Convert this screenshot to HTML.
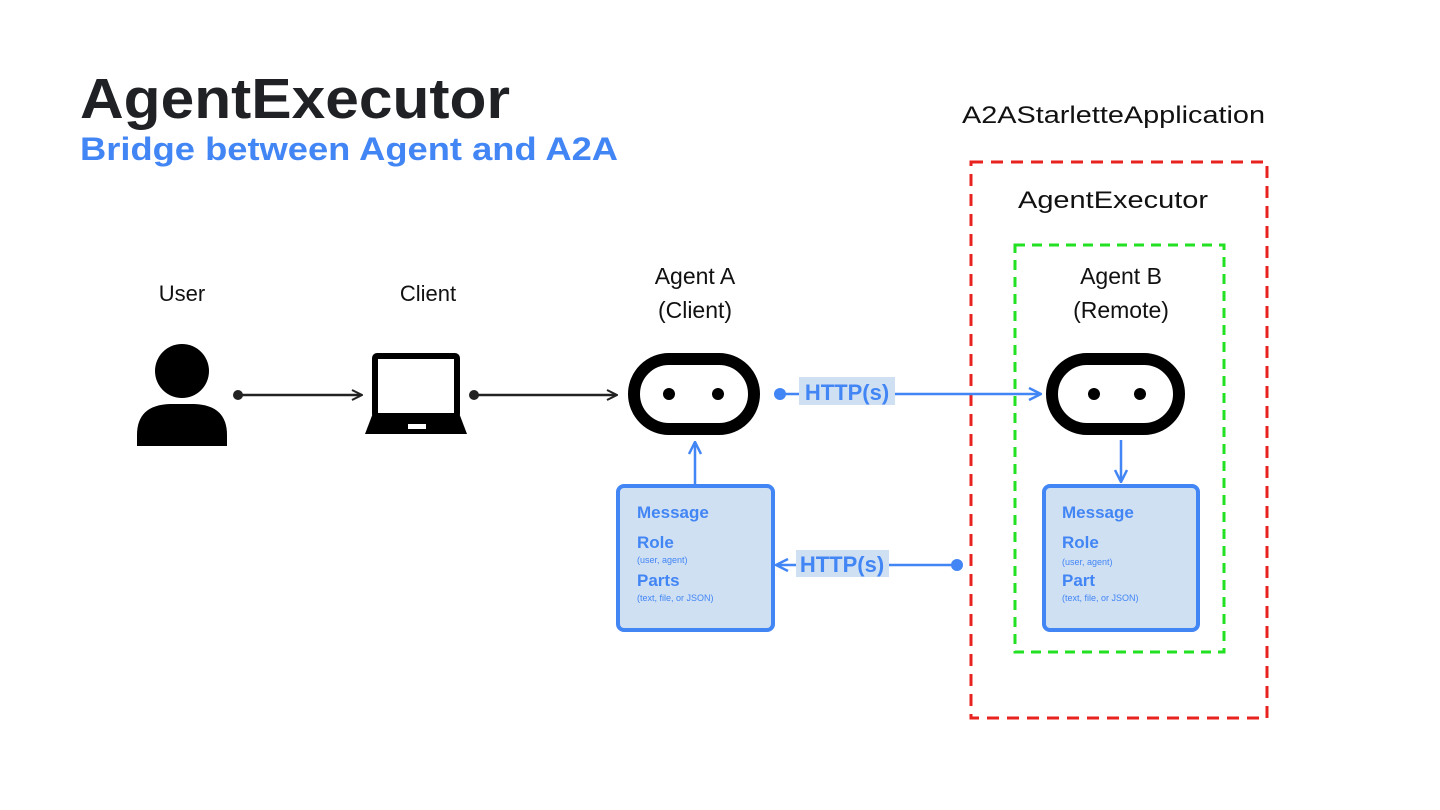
<!DOCTYPE html>
<html><head><meta charset="utf-8"><style>
body{margin:0;background:#fff;width:1440px;height:810px;overflow:hidden}
svg{display:block}
.h{font-family:"Liberation Sans",sans-serif}
</style></head><body>
<svg width="1440" height="810" viewBox="0 0 1440 810" xmlns="http://www.w3.org/2000/svg">
<defs>
<marker id="ak" markerWidth="12" markerHeight="12" refX="10" refY="6" orient="auto" markerUnits="userSpaceOnUse"><path d="M1,1 L11,6 L1,11" fill="none" stroke="#222" stroke-width="2"/></marker>
<marker id="ab" markerWidth="14" markerHeight="14" refX="12" refY="7" orient="auto" markerUnits="userSpaceOnUse"><path d="M1,1 L13,7 L1,13" fill="none" stroke="#4285f4" stroke-width="2.5"/></marker>
</defs>
<text x="80" y="118" class="h" font-size="57" font-weight="bold" fill="#202124" textLength="430" lengthAdjust="spacingAndGlyphs">AgentExecutor</text>
<text x="80" y="160" class="h" font-size="32" font-weight="bold" fill="#4285f4" textLength="538" lengthAdjust="spacingAndGlyphs">Bridge between Agent and A2A</text>

<text x="962" y="123" class="h" font-size="24" fill="#111" textLength="303" lengthAdjust="spacingAndGlyphs">A2AStarletteApplication</text>
<rect x="971" y="162" width="296" height="556" fill="none" stroke="#e8231f" stroke-width="3" stroke-dasharray="12,8"/>
<text x="1018" y="208" class="h" font-size="24" fill="#111" textLength="190" lengthAdjust="spacingAndGlyphs">AgentExecutor</text>
<rect x="1015" y="245" width="209" height="407" fill="none" stroke="#22e022" stroke-width="3" stroke-dasharray="10,7"/>

<text x="182" y="301" class="h" font-size="22" fill="#111" text-anchor="middle">User</text>
<text x="428" y="301" class="h" font-size="22" fill="#111" text-anchor="middle">Client</text>
<text x="695" y="284" class="h" font-size="23" fill="#111" text-anchor="middle">Agent A</text>
<text x="695" y="318" class="h" font-size="23" fill="#111" text-anchor="middle">(Client)</text>
<text x="1121" y="284" class="h" font-size="23" fill="#111" text-anchor="middle">Agent B</text>
<text x="1121" y="318" class="h" font-size="23" fill="#111" text-anchor="middle">(Remote)</text>

<circle cx="182" cy="371" r="27" fill="#000"/>
<path d="M137,446 L137,435 Q137,405 170,404 L194,404 Q227,405 227,435 L227,446 Z" fill="#000"/>

<rect x="375" y="356" width="82" height="60" rx="2" fill="none" stroke="#000" stroke-width="6"/>
<path d="M373,413 L459,413 L467,434 L365,434 Z" fill="#000"/>
<rect x="408" y="424" width="18" height="5" fill="#fff"/>

<line x1="238" y1="395" x2="361" y2="395" stroke="#222" stroke-width="2.5" marker-end="url(#ak)"/>
<circle cx="238" cy="395" r="5" fill="#222"/>
<line x1="474" y1="395" x2="616" y2="395" stroke="#222" stroke-width="2.5" marker-end="url(#ak)"/>
<circle cx="474" cy="395" r="5" fill="#222"/>

<rect x="634" y="359" width="120" height="70" rx="35" fill="#fff" stroke="#000" stroke-width="12"/>
<circle cx="669" cy="394" r="6" fill="#000"/><circle cx="718" cy="394" r="6" fill="#000"/>
<rect x="1052" y="359" width="127" height="70" rx="35" fill="#fff" stroke="#000" stroke-width="12"/>
<circle cx="1094" cy="394" r="6" fill="#000"/><circle cx="1140" cy="394" r="6" fill="#000"/>

<line x1="780" y1="394" x2="1040" y2="394" stroke="#4285f4" stroke-width="2.5" marker-end="url(#ab)"/>
<circle cx="780" cy="394" r="6" fill="#4285f4"/>
<rect x="799" y="377" width="96" height="28" fill="#cfe0f3"/>
<text x="847" y="400" class="h" font-size="22" font-weight="bold" fill="#4285f4" text-anchor="middle">HTTP(s)</text>

<line x1="957" y1="565" x2="777" y2="565" stroke="#4285f4" stroke-width="2.5" marker-end="url(#ab)"/>
<circle cx="957" cy="565" r="6" fill="#4285f4"/>
<rect x="796" y="550" width="93" height="27" fill="#cfe0f3"/>
<text x="842" y="572" class="h" font-size="22" font-weight="bold" fill="#4285f4" text-anchor="middle">HTTP(s)</text>

<line x1="695" y1="485" x2="695" y2="443" stroke="#4285f4" stroke-width="2.5" marker-end="url(#ab)"/>
<line x1="1121" y1="440" x2="1121" y2="481" stroke="#4285f4" stroke-width="2.5" marker-end="url(#ab)"/>

<rect x="618" y="486" width="155" height="144" rx="6" fill="#cfe0f3" stroke="#4285f4" stroke-width="4"/>
<g class="h" fill="#4285f4" font-weight="bold">
<text x="637" y="518" font-size="17">Message</text>
<text x="637" y="548" font-size="17">Role</text>
<text x="637" y="563" font-size="9" font-weight="normal">(user, agent)</text>
<text x="637" y="586" font-size="17">Parts</text>
<text x="637" y="601" font-size="9" font-weight="normal">(text, file, or JSON)</text>
</g>
<rect x="1044" y="486" width="154" height="144" rx="6" fill="#cfe0f3" stroke="#4285f4" stroke-width="4"/>
<g class="h" fill="#4285f4" font-weight="bold">
<text x="1062" y="518" font-size="17">Message</text>
<text x="1062" y="548" font-size="17">Role</text>
<text x="1062" y="565" font-size="9" font-weight="normal">(user, agent)</text>
<text x="1062" y="586" font-size="17">Part</text>
<text x="1062" y="601" font-size="9" font-weight="normal">(text, file, or JSON)</text>
</g>
</svg>
</body></html>
